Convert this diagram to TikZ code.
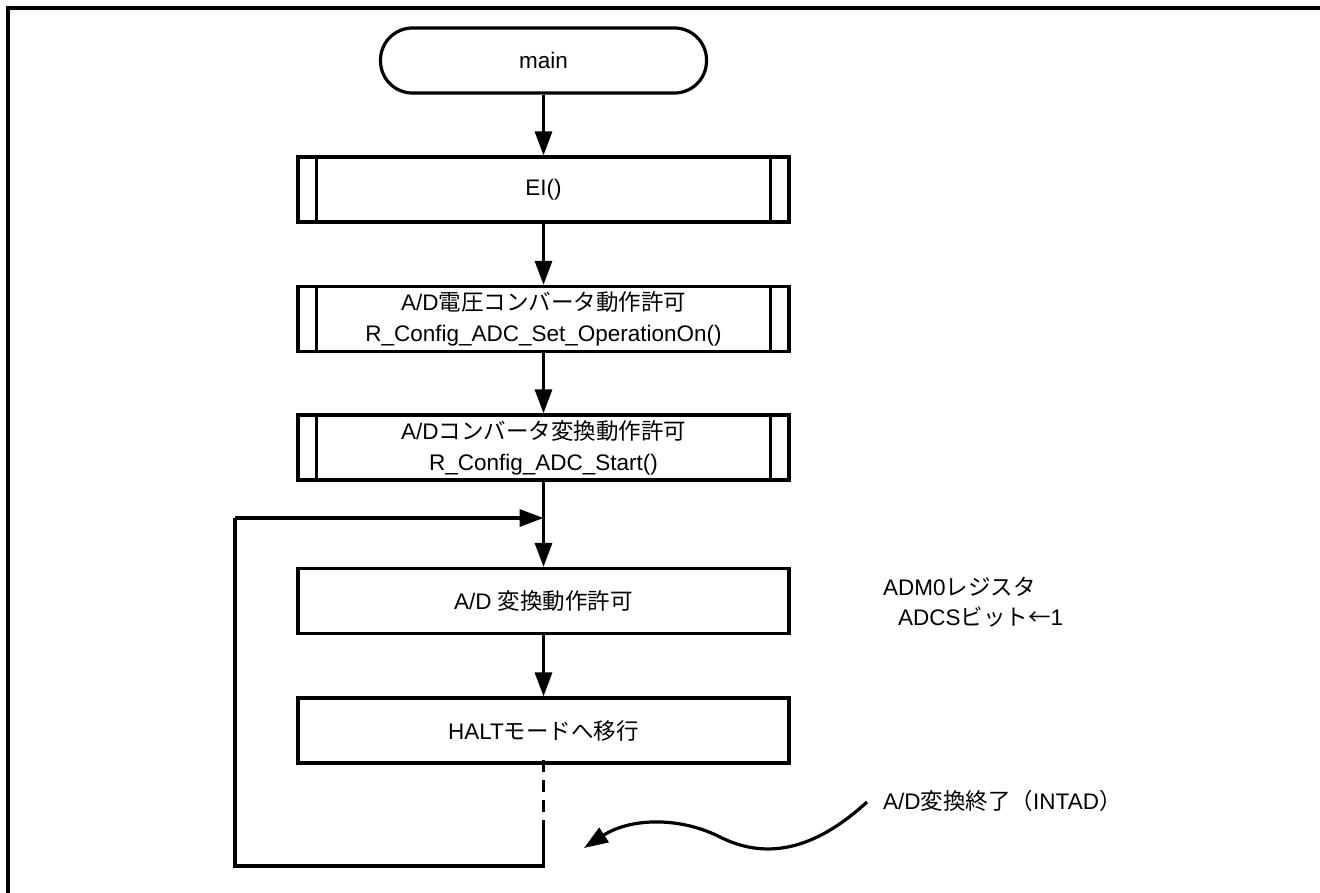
\documentclass[tikz,border=0pt]{standalone}
\usepackage{fontspec}
\setmainfont{Liberation Sans}
\newfontfamily\jp{Noto Sans CJK JP}
\usetikzlibrary{arrows.meta}
\newcommand{\jtxt}[1]{{\jp #1}}
\begin{document}
\begin{tikzpicture}[x=1pt,y=-1pt,
  every node/.style={font=\fontsize{22.5}{31}\selectfont},
  line/.style={line width=3.2pt},
  flow/.style={line width=3.2pt,-{Triangle[length=24pt,width=17pt]}},
  term/.style={draw,line width=3.2pt,rounded corners=32pt,minimum width=326pt,minimum height=65pt,inner sep=0pt},
  proc/.style={draw,line width=3.2pt,minimum width=491pt,minimum height=65pt,inner sep=0pt,align=center},
  note/.style={anchor=west,inner sep=0pt}]
\useasboundingbox (0,0) rectangle (1320,892);
\begin{scope}
\clip (0,0) rectangle (1320,892);
\draw[line width=3.2pt] (8,8) rectangle (1340,910);
\end{scope}

\node[term] (main) at (543.5,60.5) {main};
\node[proc] (ei) at (543.5,189.5) {EI()};
\node[proc] (vop) at (543.5,319) {A/D\jtxt{電圧コンバータ動作許可}\\R\_Config\_ADC\_Set\_OperationOn()};
\node[proc] (start) at (543.5,447.5) {A/D\jtxt{コンバータ変換動作許可}\\R\_Config\_ADC\_Start()};
\node[proc] (adcs) at (543.5,601) {A/D \jtxt{変換動作許可}};
\node[proc] (halt) at (543.5,730.5) {HALT\jtxt{モードへ移行}};

\foreach \b in {ei,vop,start}{
  \draw[line] ([xshift=20pt]\b.north west) -- ([xshift=20pt]\b.south west);
  \draw[line] ([xshift=-20pt]\b.north east) -- ([xshift=-20pt]\b.south east);
}

\coordinate (join) at (543.5,518);
\coordinate (dashend) at (543.5,830);
\coordinate (bot) at (543.5,866);
\coordinate (lb) at (235,866);
\coordinate (lt) at (235,518);

\draw[flow] (main) -- (ei);
\draw[flow] (ei) -- (vop);
\draw[flow] (vop) -- (start);
\draw[flow] (start) -- (adcs);
\draw[flow] (adcs) -- (halt);
\draw[line,dash pattern=on 12pt off 8pt] ([yshift=5pt]halt.south) -- (dashend);
\draw[line] (dashend) -- (bot) -- (lb) -- (lt);
\draw[flow] (lt) -- (join);

\node[note] (n1) at (883,587) {ADM0\jtxt{レジスタ}};
\node[note] (n2) at (898,617) {ADCS\jtxt{ビット←}1};

\node[note] (intad) at (883,801) {A/D\jtxt{変換終了（}INTAD\jtxt{）}};
\coordinate (ws) at (867,802);
\coordinate (wm) at (722,838);
\coordinate (we) at (584,848);
\draw[line width=3.2pt,-{Triangle[length=24pt,width=17pt]}] (ws) .. controls (820,845) and (772,862) .. (wm) .. controls (680,816) and (630,818) .. (we);
\end{tikzpicture}
\end{document}
